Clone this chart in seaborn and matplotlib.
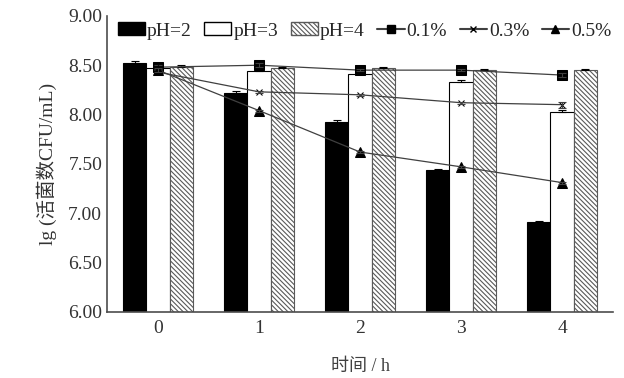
import matplotlib
matplotlib.use('Agg')
import matplotlib.pyplot as plt
import seaborn as sns
import pandas as pd
from matplotlib.patches import Patch
from matplotlib.lines import Line2D

# ---- data ----
times = [0, 1, 2, 3, 4]
tick_labels = ['0', '1', '2', '3', '4']
ph_levels = ['pH=2', 'pH=3', 'pH=4']
ph2 = [8.52, 8.22, 7.92, 7.44, 6.91]
ph3 = [8.47, 8.44, 8.41, 8.33, 8.03]
ph4 = [8.48, 8.47, 8.47, 8.45, 8.45]
ph2_err = [0.02, 0.02, 0.02, 0.01, 0.01]
ph3_err = [0.02, 0.02, 0.02, 0.02, 0.02]
ph4_err = [0.02, 0.01, 0.01, 0.01, 0.01]
conc_levels = ['0.1%', '0.3%', '0.5%']
c01 = [8.48, 8.50, 8.45, 8.45, 8.40]
c03 = [8.43, 8.23, 8.20, 8.12, 8.10]
c05 = [8.45, 8.04, 7.62, 7.47, 7.31]
c01_err = [0.02, 0.02, 0.01, 0.01, 0.02]
c03_err = [0.02, 0.01, 0.01, 0.01, 0.03]
c05_err = [0.02, 0.01, 0.01, 0.01, 0.01]
yticks = [6.0, 6.5, 7.0, 7.5, 8.0, 8.5, 9.0]

sns.set_style('white')
plt.rcParams['font.family'] = ['Liberation Serif', 'Noto Sans CJK SC']
plt.rcParams['hatch.linewidth'] = 0.8
plt.rcParams['hatch.color'] = '0.35'

HATCH = '\\' * 7

fig = plt.figure(figsize=(6.24, 3.78), dpi=100)
ax = fig.add_axes([0.1715, 0.175, 0.811, 0.783])

df = pd.DataFrame({
    'time': times * 3,
    'pH': [ph_levels[0]] * 5 + [ph_levels[1]] * 5 + [ph_levels[2]] * 5,
    'value': ph2 + ph3 + ph4,
})
sns.barplot(data=df, x='time', y='value', hue='pH', hue_order=ph_levels,
            palette=['black', 'white', 'white'], width=0.69,
            edgecolor='black', linewidth=0.8, legend=False, ax=ax, zorder=2)

errs = [ph2_err, ph3_err, ph4_err]
vals = [ph2, ph3, ph4]
bar_conts = list(ax.containers)
for i, cont in enumerate(bar_conts):
    for j, bar in enumerate(cont):
        if i == 2:
            bar.set_hatch(HATCH)
            bar.set_edgecolor('0.35')
        xc = bar.get_x() + bar.get_width() / 2
        ax.errorbar(xc, vals[i][j], yerr=[[0], [errs[i][j]]], color='black',
                    lw=0.8, capsize=3, capthick=0.8, zorder=3)

markers = ['s', 'x', '^']
msizes = [6.5, 5, 6.5]
for vals_c, err_c, m, ms in zip([c01, c03, c05], [c01_err, c03_err, c05_err], markers, msizes):
    sns.lineplot(x=times, y=vals_c, marker=m, markersize=ms, color='0.25',
                 markerfacecolor='black', markeredgecolor='black', linewidth=0.9,
                 ax=ax, zorder=4)
    ax.errorbar(times, vals_c, yerr=err_c, fmt='none', ecolor='0.25', lw=0.8,
                capsize=3, capthick=0.8, zorder=4)

ax.set_xlim(-0.505, 4.505)
ax.set_ylim(6.0, 9.0)
ax.set_yticks(yticks)
ax.set_yticklabels([f'{v:.2f}' for v in yticks])
ax.set_xticks(times)
ax.set_xticklabels(tick_labels)
ax.tick_params(axis='y', direction='in', length=5, width=1, labelsize=14, colors='0.25', labelcolor='0.2')
ax.tick_params(axis='x', length=0, labelsize=14, labelcolor='0.2', pad=6)
for s in ['top', 'right']:
    ax.spines[s].set_visible(False)
for s in ['left', 'bottom']:
    ax.spines[s].set_color('0.3')
    ax.spines[s].set_linewidth(1.2)

ax.set_xlabel('时间 / h', fontsize=13, color='0.25', labelpad=15)
ax.set_ylabel('lg (活菌数CFU/mL)', fontsize=14, color='0.2', labelpad=8)

handles = [
    Patch(facecolor='black', edgecolor='black', label=ph_levels[0]),
    Patch(facecolor='white', edgecolor='black', label=ph_levels[1]),
    Patch(facecolor='white', edgecolor='0.35', hatch=HATCH, label=ph_levels[2]),
    Line2D([], [], color='0.25', marker='s', markersize=6, mfc='black', mec='black', label=conc_levels[0]),
    Line2D([], [], color='0.25', marker='x', markersize=5, mfc='black', mec='black', label=conc_levels[1]),
    Line2D([], [], color='0.25', marker='^', markersize=6, mfc='black', mec='black', label=conc_levels[2]),
]
fig.legend(handles=handles, loc='center', bbox_to_anchor=(0.584, 0.918), ncol=6,
           frameon=False, fontsize=14, handlelength=1.4, handleheight=0.6,
           handletextpad=0.1, columnspacing=0.65, borderaxespad=0)
for t in fig.legends[0].get_texts():
    t.set_color('0.15')

fig.savefig('out.png', dpi=100)
